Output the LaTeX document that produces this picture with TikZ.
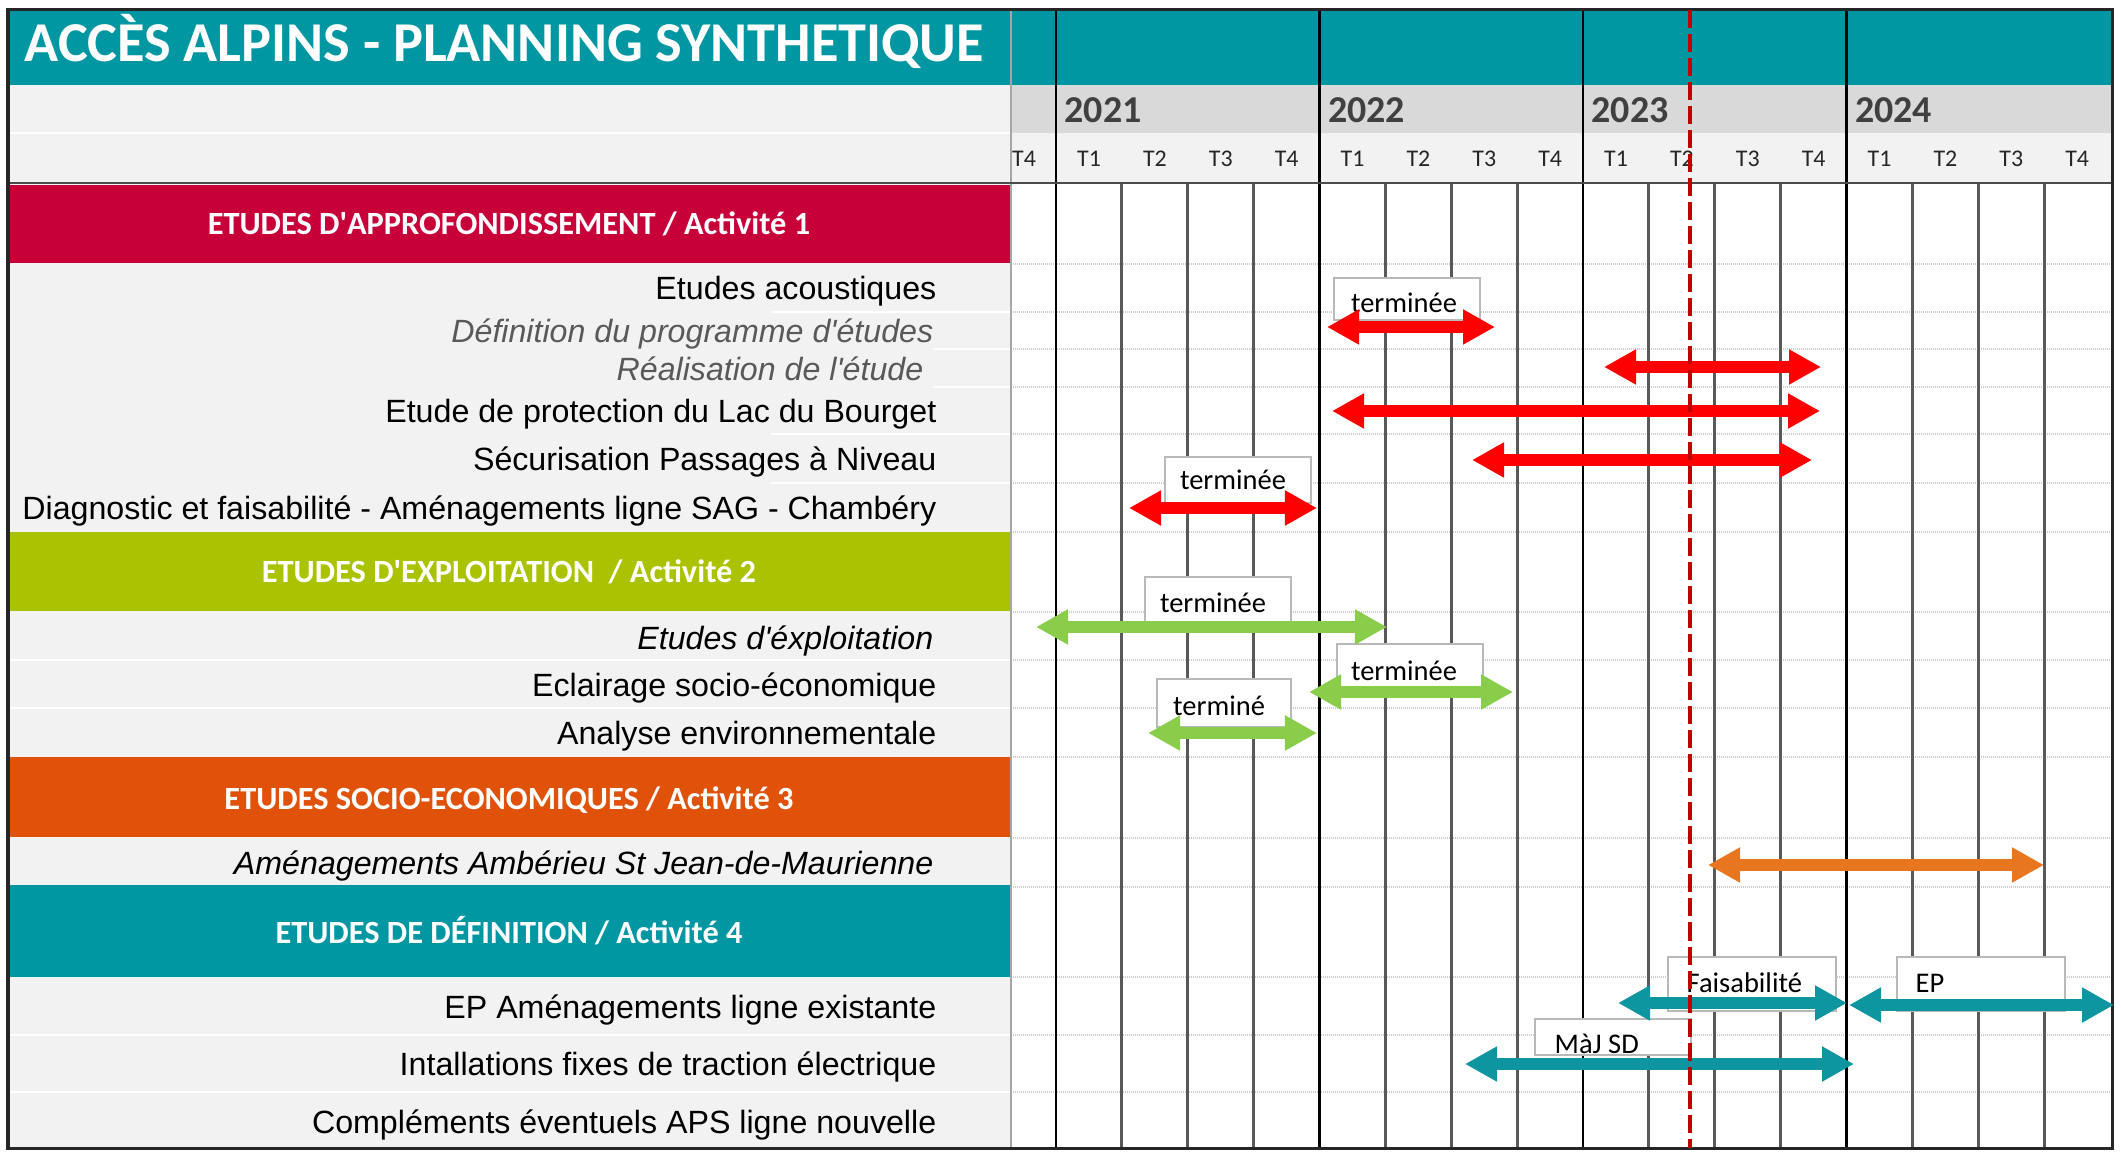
\documentclass[tikz,border=0pt]{standalone}
\usepackage{fontspec}
\setmainfont{Liberation Sans}
\newfontfamily\calibri{Carlito}
\usetikzlibrary{arrows.meta}

\definecolor{tealA}{RGB}{0,151,163}
\definecolor{cramois}{RGB}{200,0,58}
\definecolor{anis}{RGB}{170,194,0}
\definecolor{orangeA}{RGB}{224,82,10}
\definecolor{rougeF}{RGB}{255,0,0}
\definecolor{vertF}{RGB}{137,205,75}
\definecolor{orangeF}{RGB}{232,118,30}
\definecolor{tealF}{RGB}{14,150,160}
\definecolor{pointille}{RGB}{192,0,0}
\definecolor{grisA}{RGB}{242,242,242}
\definecolor{grisB}{RGB}{217,217,217}
\definecolor{grisT}{RGB}{89,89,89}
\newcommand{\apos}{\textquotesingle}

\tikzset{
  grp/.style={font=\calibri\bfseries\fontsize{9.2}{11}\selectfont, text=white, anchor=base, inner sep=0pt},
  lbl/.style={font=\fontsize{9.15}{11}\selectfont, anchor=base east, inner sep=0pt},
  lbli/.style={lbl, font=\fontsize{9.15}{11}\selectfont\itshape},
  tagbox/.style={draw=gray!55, fill=white, line width=0.02cm, inner sep=0pt},
  tagtxt/.style={font=\calibri\fontsize{8.1}{9}\selectfont, inner sep=0pt},
  bar/.style={line width=0.12cm, arrows={Triangle[length=3.2mm,width=3.3mm]-Triangle[length=3.2mm,width=3.3mm]}},
}

\begin{document}
\begin{tikzpicture}[x=0.01cm,y=-0.01cm] % ------ Planning -----------------------------
    \useasboundingbox (0,0) rectangle (2121,1152);
    % ------ fonds
    \fill [tealA] (8,10) rectangle (2112,85);
    \fill [grisA] (8,85) rectangle (1011,1148);
    \fill [grisB] (1011,85) rectangle (2112,133);
    \fill [grisA] (1011,133) rectangle (2112,183);
    \fill [white] (1011,183) rectangle (2112,1148);
    \fill [cramois] (8,185) rectangle (1011,263);
    \fill [anis] (8,532) rectangle (1011,611);
    \fill [orangeA] (8,757) rectangle (1011,837);
    \fill [tealA] (8,885) rectangle (1011,977);
    % ------ separations des lignes
    \draw [white, line width=0.02cm] (8,133)--(1011,133);
    \draw [white, line width=0.02cm] (771,312)--(1011,312);
    \draw [white, line width=0.02cm] (933,349)--(1011,349);
    \draw [white, line width=0.02cm] (933,387)--(1011,387);
    \foreach \y in {434,483} \draw [white, line width=0.02cm] (771,\y)--(1011,\y);
    \foreach \y in {660,708,1035,1092} \draw [white, line width=0.02cm] (8,\y)--(1011,\y);
    \foreach \y in {264,312,349,387,434,483,532,612,660,708,757,838,887,977,1035,1092}
      \draw [gray!40, line width=0.02cm, dash pattern=on 0.01cm off 0.01cm] (1011,\y)--(2112,\y);
    % ------ trimestres et annees
    \foreach \k in {1,2,3,5,6,7,9,10,11,13,14,15}
      \draw [black!65, line width=0.028cm] (1056+65.875*\k,183)--(1056+65.875*\k,1148);
    \foreach \k in {0,4,8,12}
      \draw [black, line width=0.028cm] (1056+65.875*\k,10)--(1056+65.875*\k,1148);
    \draw [gray!70, line width=0.02cm] (1011,10)--(1011,1148);
    \draw [gray!60!black, line width=0.02cm] (8,183)--(2112,183);
    \draw [black!85, line width=0.03cm] (8,10) rectangle (2112,1148);
    \foreach \yr [count=\i from 0] in {2021,2022,2023,2024}
      \node [font=\calibri\bfseries\fontsize{10.8}{12}\selectfont, text=black!75, anchor=base west, inner sep=0pt] (an\yr) at (1064+263.5*\i,123) {\yr};
    \node [font=\calibri\fontsize{6.8}{8}\selectfont, text=black!85, anchor=base, inner sep=0pt] (q0) at (1024,167) {T4};
    \foreach \k in {0,...,15} {
      \pgfmathtruncatemacro{\q}{mod(\k,4)+1}
      \node [font=\calibri\fontsize{6.8}{8}\selectfont, text=black!85, anchor=base, inner sep=0pt] (q\k) at (1056+65.875*\k+33,167) {T\q};
    }
    % ------ titres
    \node [font=\calibri\bfseries\fontsize{16}{18}\selectfont, text=white, anchor=base west, inner sep=0pt] (titre) at (24,62) {ACCÈS ALPINS - PLANNING SYNTHETIQUE};
    \node [grp] (g1) at (509,235) {ETUDES D\apos APPROFONDISSEMENT / Activité 1};
    \node [grp] (g2) at (509,583) {ETUDES D\apos EXPLOITATION \ / Activité 2};
    \node [grp] (g3) at (509,809) {ETUDES SOCIO-ECONOMIQUES / Activité 3};
    \node [grp] (g4) at (509,943) {ETUDES DE DÉFINITION / Activité 4};
    % ------ libelles
    \node [lbl] (r1) at (937,300) {Etudes acoustiques};
    \node [lbli, text=grisT] (r2) at (934,343) {Définition du programme d\apos études};
    \node [lbli, text=grisT] (r3) at (924,381) {Réalisation de l\apos étude};
    \node [lbl] (r4) at (937,423) {Etude de protection du Lac du Bourget};
    \node [lbl] (r5) at (937,471) {Sécurisation Passages à Niveau};
    \node [lbl] (r6) at (937,519) {Diagnostic et faisabilité - Aménagements ligne SAG - Chambéry};
    \node [lbli] (r7) at (934,649) {Etudes d\apos éxploitation};
    \node [lbl] (r8) at (937,696) {Eclairage socio-économique};
    \node [lbl] (r9) at (937,744) {Analyse environnementale};
    \node [lbli] (r10) at (934,874) {Aménagements Ambérieu St Jean-de-Maurienne};
    \node [lbl] (r11) at (937,1018) {EP Aménagements ligne existante};
    \node [lbl] (r12) at (937,1075) {Intallations fixes de traction électrique};
    \node [lbl] (r13) at (937,1133) {Compléments éventuels APS ligne nouvelle};
    % ------ etiquettes
    \node [tagbox, minimum width=1.45cm, minimum height=0.41cm] (b1) at (1407,299) {};
    \node [tagtxt, anchor=base] (e1) at (1404,313) {terminée};
    \node [tagbox, minimum width=1.46cm, minimum height=0.46cm] (b2) at (1238,480) {};
    \node [tagtxt, anchor=base] (e2) at (1233,490) {terminée};
    \node [tagbox, minimum width=1.45cm, minimum height=0.48cm] (b3) at (1218,601) {};
    \node [tagtxt, anchor=base] (e3) at (1213,612) {terminée};
    \node [tagbox, minimum width=1.45cm, minimum height=0.45cm] (b4) at (1410,667) {};
    \node [tagtxt, anchor=base] (e4) at (1404,680) {terminée};
    \node [tagbox, minimum width=1.34cm, minimum height=0.47cm] (b5) at (1224,703) {};
    \node [tagtxt, anchor=base] (e5) at (1219,715) {terminé};
    \node [tagbox, minimum width=1.68cm, minimum height=0.54cm] (b6) at (1752,984) {};
    \node [tagtxt, anchor=base west] (e6) at (1686,992) {Faisabilité};
    \node [tagbox, minimum width=1.67cm, minimum height=0.54cm] (b7) at (1981,984) {};
    \node [tagtxt, anchor=base west] (e7) at (1915,992) {EP};
    \node [tagbox, minimum width=1.55cm, minimum height=0.36cm] (b8) at (1613,1037) {};
    \node [tagtxt, anchor=base west] (e8) at (1554,1053) {MàJ SD};
    % ------ fleches
    \draw [bar, rougeF] (1327,327)--(1495,327);
    \draw [bar, rougeF] (1604,367)--(1821,367);
    \draw [bar, rougeF] (1332,411)--(1820,411);
    \draw [bar, rougeF] (1472,460)--(1812,460);
    \draw [bar, rougeF] (1129,508)--(1317,508);
    \draw [bar, vertF] (1036,627)--(1387,627);
    \draw [bar, vertF] (1309,692)--(1513,692);
    \draw [bar, vertF] (1148,733)--(1317,733);
    \draw [bar, orangeF] (1708,865)--(2044,865);
    \draw [bar, tealF] (1618,1003)--(1847,1003);
    \draw [bar, tealF] (1849,1005)--(2114,1005);
    \draw [bar, tealF] (1465,1064)--(1854,1064);
    % ------ aujourd'hui
    \draw [pointille, line width=0.045cm, dash pattern=on 0.18cm off 0.06cm] (1690,10)--(1690,1148);
\end{tikzpicture}
\end{document}
